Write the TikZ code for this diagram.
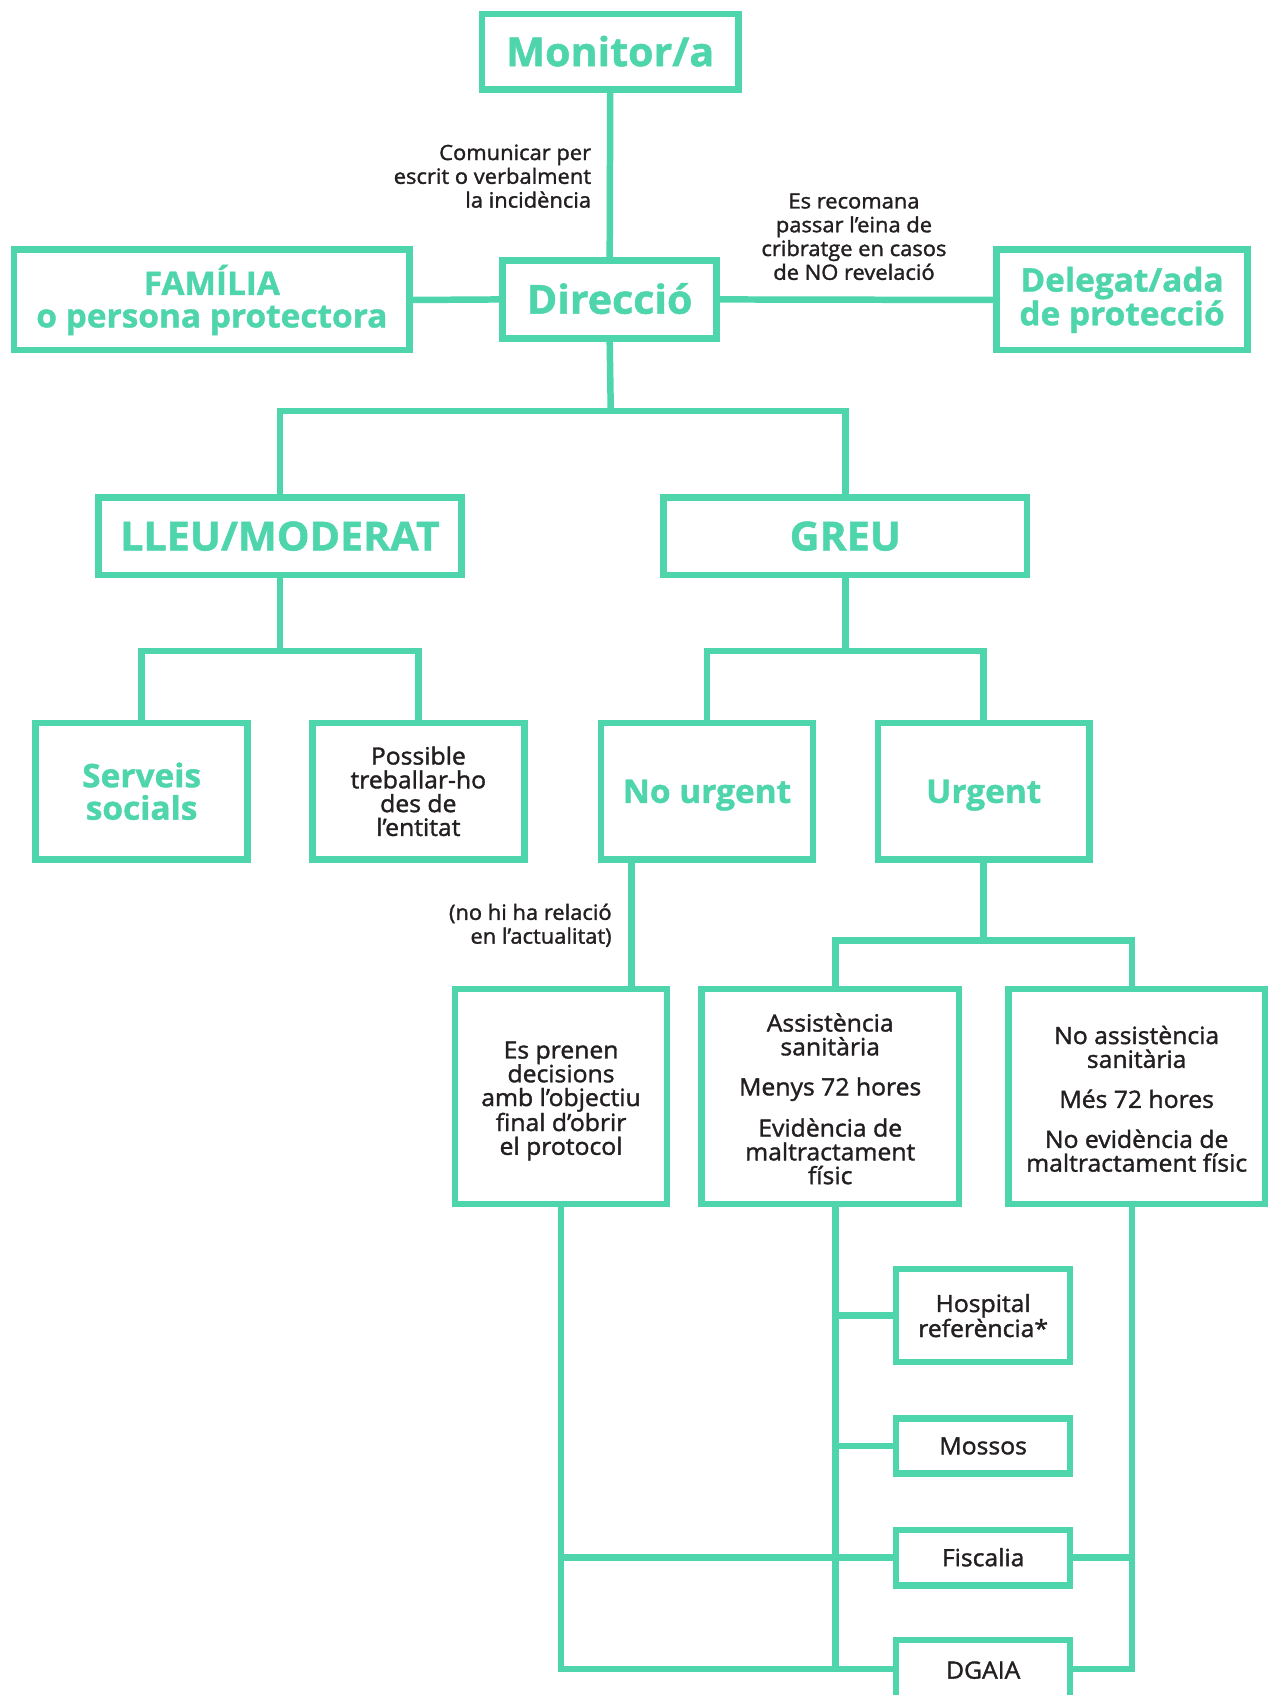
\documentclass[tikz,border=0pt]{standalone}
\usepackage{fontspec}
\setmainfont{Open Sans}
\newfontfamily\bodyf{Open Sans}[FakeBold=1.5, FakeStretch=1.04]
\newfontfamily\headf{Open Sans}[FakeStretch=1.03, BoldFeatures={FakeBold=1.2}]
\definecolor{tealc}{RGB}{78,213,172}
\definecolor{ink}{RGB}{35,31,32}
\newcommand\fBox{\bodyf\fontsize{22}{22}\selectfont}
\newcommand\fLab{\bodyf\fontsize{19.5}{22}\selectfont}
\newcommand\fHeadL{\headf\bfseries\fontsize{37}{37}\selectfont}
\newcommand\fHeadM{\headf\bfseries\fontsize{30}{30}\selectfont}
\tikzset{
  box/.style={draw=tealc, line width=6pt, inner sep=0pt, align=center, text=ink, font=\fBox},
  headL/.style={box, text=tealc, font=\fHeadL},
  headM/.style={box, text=tealc, font=\fHeadM},
  capL/.style={text height=26.4pt, text depth=0pt},
  capM/.style={text height=21.4pt, text depth=0pt},
  capS/.style={text height=15.7pt, text depth=0pt},
  conn/.style={draw=tealc, line width=6pt, line join=miter},
  lab/.style={inner sep=0pt, text=ink, font=\fLab},
  btext/.style={inner sep=0pt, align=center, text=ink, font=\fBox}
}
\begin{document}
\begin{tikzpicture}[x=1pt, y=-1pt]
\useasboundingbox (0,0) rectangle (1175,1568);
\fill[white] (0,0) rectangle (1175,1568);
\clip (0,0) rectangle (1175,1568);

% nodes
\node[headL, capL, minimum width=237, minimum height=70] (mon) at (564.5,48) {Monitor/a};
\node[headL, capL, minimum width=198, minimum height=72] (dir) at (564,277) {Direcció};
\node[headM, minimum width=366, minimum height=93] (fam) at (196,277.5) {FAMÍLIA\\o persona protectora};
\node[headM, minimum width=232, minimum height=93] (del) at (1038,277.5) {Delegat/ada\\de protecció};
\node[headL, capL, minimum width=336, minimum height=72] (lleu) at (259,496) {LLEU/MODERAT};
\node[headL, capL, minimum width=336, minimum height=72] (greu) at (782,496) {GREU};
\node[headM, minimum width=196, minimum height=126] (serv) at (131,732) {Serveis\\socials};
\node[box, minimum width=196, minimum height=126] (poss) at (387,732) {Possible\\treballar-ho\\des de\\l’entitat};
\node[headM, capM, minimum width=196, minimum height=126] (nourg) at (654,732) {No urgent};
\node[headM, capM, minimum width=196, minimum height=126] (urg) at (910,732) {Urgent};
\node[box, minimum width=196, minimum height=199] (pren) at (519,1014.5) {};
\node[btext] (prent) at (519,1018.5) {Es prenen\\decisions\\amb l’objectiu\\final d’obrir\\el protocol};
\node[box, minimum width=238, minimum height=199] (asis) at (768,1014.5) {};
\node[btext] (asist) at (768,1016.5) {Assistència\\sanitària\\[15pt]Menys 72 hores\\[15pt]Evidència de\\maltractament\\físic};
\node[box, minimum width=237, minimum height=199] (noas) at (1051.5,1014.5) {};
\node[btext] (noast) at (1051.5,1016.5) {No assistència\\sanitària\\[15pt]Més 72 hores\\[15pt]No evidència de\\maltractament físic};
\node[box, minimum width=161, minimum height=86] (hosp) at (909.5,1217) {Hospital\\referència*};
\node[box, capS, minimum width=161, minimum height=51] (moss) at (909.5,1337.5) {Mossos};
\node[box, capS, minimum width=161, minimum height=51] (fisc) at (909.5,1441) {Fiscalia};
\node[box, capS, minimum width=161, minimum height=56] (dgaia) at (909.5,1545) {DGAIA};

% labels
\node[lab, align=right, anchor=east] (l1) at (547,163) {Comunicar per\\escrit o verbalment\\la incidència};
\node[lab, align=center] (l2) at (790,219) {Es recomana\\passar l’eina de\\cribratge en casos\\de NO revelació};
\node[lab, align=right, anchor=east] (l3) at (566,856) {(no hi ha relació\\en l’actualitat)};

% junction coordinates
\coordinate (j1) at (565,380);
\coordinate (j2) at (259,602);
\coordinate (j3) at (782,602);
\coordinate (j4) at (910,870);
\coordinate (cN) at (584,0);
\coordinate (cA) at (773,0);
\coordinate (cB) at (1047,0);
\coordinate (rD) at (0,1544);

% connectors
\draw[conn] (mon.south) -- (dir.north);
\draw[conn] (fam.east) -- (dir.west);
\draw[conn] (dir.east) -- (del.west);
\draw[conn] (dir.south) -- (j1);
\draw[conn] (lleu.north) |- (j1) -| (greu.north);
\draw[conn] (lleu.south) -- (j2);
\draw[conn] (serv.north) |- (j2) -| (poss.north);
\draw[conn] (greu.south) -- (j3);
\draw[conn] (nourg.north) |- (j3) -| (urg.north);
\draw[conn] (nourg.south -| cN) -- (pren.north -| cN);
\draw[conn] (urg.south) -- (j4);
\draw[conn] (asis.north -| cA) |- (j4) -| (noas.north -| cB);
\draw[conn] (pren.south) |- (dgaia.west |- rD);
\draw[conn] (noas.south -| cB) |- (dgaia.east |- rD);
\draw[conn] (asis.south -| cA) -- (cA |- rD);
\draw[conn] (cA |- hosp.west) -- (hosp.west);
\draw[conn] (cA |- moss.west) -- (moss.west);
\draw[conn] (pren.south |- fisc.west) -- (fisc.west);
\draw[conn] (fisc.east) -- (cB |- fisc.east);
\end{tikzpicture}
\end{document}
